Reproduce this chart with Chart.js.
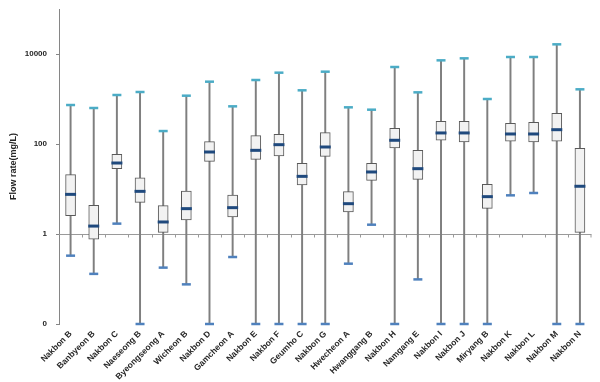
<!DOCTYPE html>
<html>
<head>
<meta charset="utf-8">
<script src="https://cdn.jsdelivr.net/npm/chart.js@4/dist/chart.umd.min.js"></script>
<style>
html,body{margin:0;padding:0;background:#fff;}
#wrap{width:600px;height:382px;position:relative;}
</style>
</head>
<body>
<div id="wrap"><canvas id="c" width="600" height="382"></canvas></div>
<script>
const categories = ['Nakbon B','Banbyeon B','Nakbon C','Naeseong B','Byeongseong A','Wicheon B','Nakbon D','Gamcheon A','Nakbon E','Nakbon F','Geumho C','Nakbon G','Hwecheon A','Hwanggang B','Nakbon H','Namgang E','Nakbon I','Nakbon J','Miryang B','Nakbon K','Nakbon L','Nakbon M','Nakbon N'];
const whiskerLow  = [0.33, 0.13, 1.70, 0.01, 0.179, 0.076, 0.01, 0.308, 0.01, 0.01, 0.01, 0.01, 0.219, 1.61, 0.01, 0.098, 0.01, 0.01, 0.01, 7.23, 8.15, 0.01, 0.01];
const quartile1   = [2.55, 0.77, 28.3, 5.06, 1.09, 2.05, 41.2, 2.39, 45.6, 54.1, 12.3, 53.2, 3.08, 15.6, 81.5, 16.4, 121, 111, 3.72, 115, 111, 115, 1.09];
const medians     = [7.6, 1.5, 37.8, 8.87, 1.85, 3.66, 66.4, 3.85, 72.3, 96.6, 19.1, 85.8, 4.72, 23.9, 121, 28.3, 176, 176, 6.76, 167, 167, 208, 11.5];
const quartile3   = [20.8, 4.34, 58.9, 17.6, 4.26, 9.03, 113, 7.36, 153, 164, 37.2, 179, 8.73, 37.2, 223, 72.3, 319, 319, 12.7, 288, 303, 480, 80.2];
const whiskerHigh = [735, 631, 1227, 1431, 194, 1185, 2427, 687, 2643, 3846, 1560, 4048, 653, 579, 5140, 1406, 7229, 8011, 1000, 8577, 8577, 16400, 1641];
const yTickValues = [0.01, 1, 100, 10000];
const yTickLabels = ['0', '1', '100', '10000'];
const yTitle = 'Flow rate(mg/L)';

const crossLine = {
  id: 'crossLine',
  beforeDatasetsDraw(chart) {
    const {ctx, chartArea, scales} = chart;
    const y = Math.round(scales.y.getPixelForValue(1)) + 0.5;
    ctx.save();
    ctx.strokeStyle = '#9a9a9a';
    ctx.lineWidth = 1;
    ctx.beginPath();
    ctx.moveTo(chartArea.left, y);
    ctx.lineTo(chartArea.right, y);
    const n = categories.length;
    for (let i = 1; i <= n; i++) {
      const x0 = scales.x.getPixelForValue(i - 1);
      const x1 = i < n ? scales.x.getPixelForValue(i) : null;
      const bx = x1 !== null ? Math.round((x0 + x1) / 2) + 0.5 : chartArea.right - 0.5;
      ctx.moveTo(bx, y);
      ctx.lineTo(bx, y + 3);
    }
    ctx.stroke();
    // y-axis tick marks (short, outward)
    ctx.strokeStyle = '#868686';
    ctx.beginPath();
    yTickValues.forEach(v => {
      const ty = Math.round(scales.y.getPixelForValue(v)) + 0.5;
      ctx.moveTo(chartArea.left - 3, ty);
      ctx.lineTo(chartArea.left, ty);
    });
    ctx.stroke();
    ctx.restore();
  }
};

const pairs = (a, b) => a.map((v, i) => [v, b[i]]);

new Chart(document.getElementById('c'), {
  data: {
    labels: categories,
    datasets: [
      {
        type: 'bar', label: 'whisker', data: pairs(whiskerLow, whiskerHigh),
        backgroundColor: '#7f7f7f', barThickness: 1.3, grouped: false, order: 5, borderWidth: 0
      },
      {
        type: 'bar', label: 'box', data: pairs(quartile1, quartile3),
        backgroundColor: '#f2f2f2', borderColor: '#595959', borderWidth: 1, borderSkipped: false,
        barThickness: 10, grouped: false, order: 4
      },
      {
        type: 'line', label: 'median', data: medians, showLine: false,
        pointStyle: 'line', pointRadius: 5.5, pointBorderWidth: 3, borderColor: '#1f497d',
        pointBorderColor: '#1f497d', order: 1, clip: false
      },
      {
        type: 'line', label: 'max', data: whiskerHigh, showLine: false,
        pointStyle: 'line', pointRadius: 4.5, pointBorderWidth: 2.5, borderColor: '#4bacc6',
        pointBorderColor: '#4bacc6', order: 2, clip: false
      },
      {
        type: 'line', label: 'min', data: whiskerLow, showLine: false,
        pointStyle: 'line', pointRadius: 4.5, pointBorderWidth: 2.5, borderColor: '#4f81bd',
        pointBorderColor: '#4f81bd', order: 3, clip: false
      }
    ]
  },
  plugins: [crossLine],
  options: {
    responsive: false,
    animation: false,
    devicePixelRatio: 1,
    layout: { padding: { top: 9, right: 2, left: 0, bottom: 0 } },
    plugins: { legend: { display: false }, tooltip: { enabled: false } },
    scales: {
      x: {
        type: 'category',
        offset: true,
        grid: { display: false, drawTicks: false },
        border: { display: false },
        ticks: {
          autoSkip: false, maxRotation: 45, minRotation: 45, padding: 5,
          color: '#262626', font: { family: 'Liberation Sans', size: 8.5, weight: 'bold' }
        },
        afterFit(s) { s.height = 58; }
      },
      y: {
        type: 'logarithmic',
        min: 0.01, max: 100000,
        border: { display: true, color: '#868686', width: 1 },
        grid: { drawOnChartArea: false, drawTicks: true, tickLength: 12, tickColor: 'rgba(0,0,0,0)' },
        afterBuildTicks(s) { s.ticks = yTickValues.map(v => ({ value: v })); },
        ticks: {
          padding: 0, color: '#262626',
          font: { family: 'Liberation Sans', size: 8, weight: 'bold' },
          callback(v) { const i = yTickValues.indexOf(v); return i >= 0 ? yTickLabels[i] : ''; }
        },
        title: {
          display: true, text: yTitle, color: '#262626', padding: { top: 8, bottom: 0 },
          font: { family: 'Liberation Sans', size: 9, weight: 'bold' }
        },
        afterFit(s) { s.width = 59; }
      }
    }
  }
});
</script>
</body>
</html>
